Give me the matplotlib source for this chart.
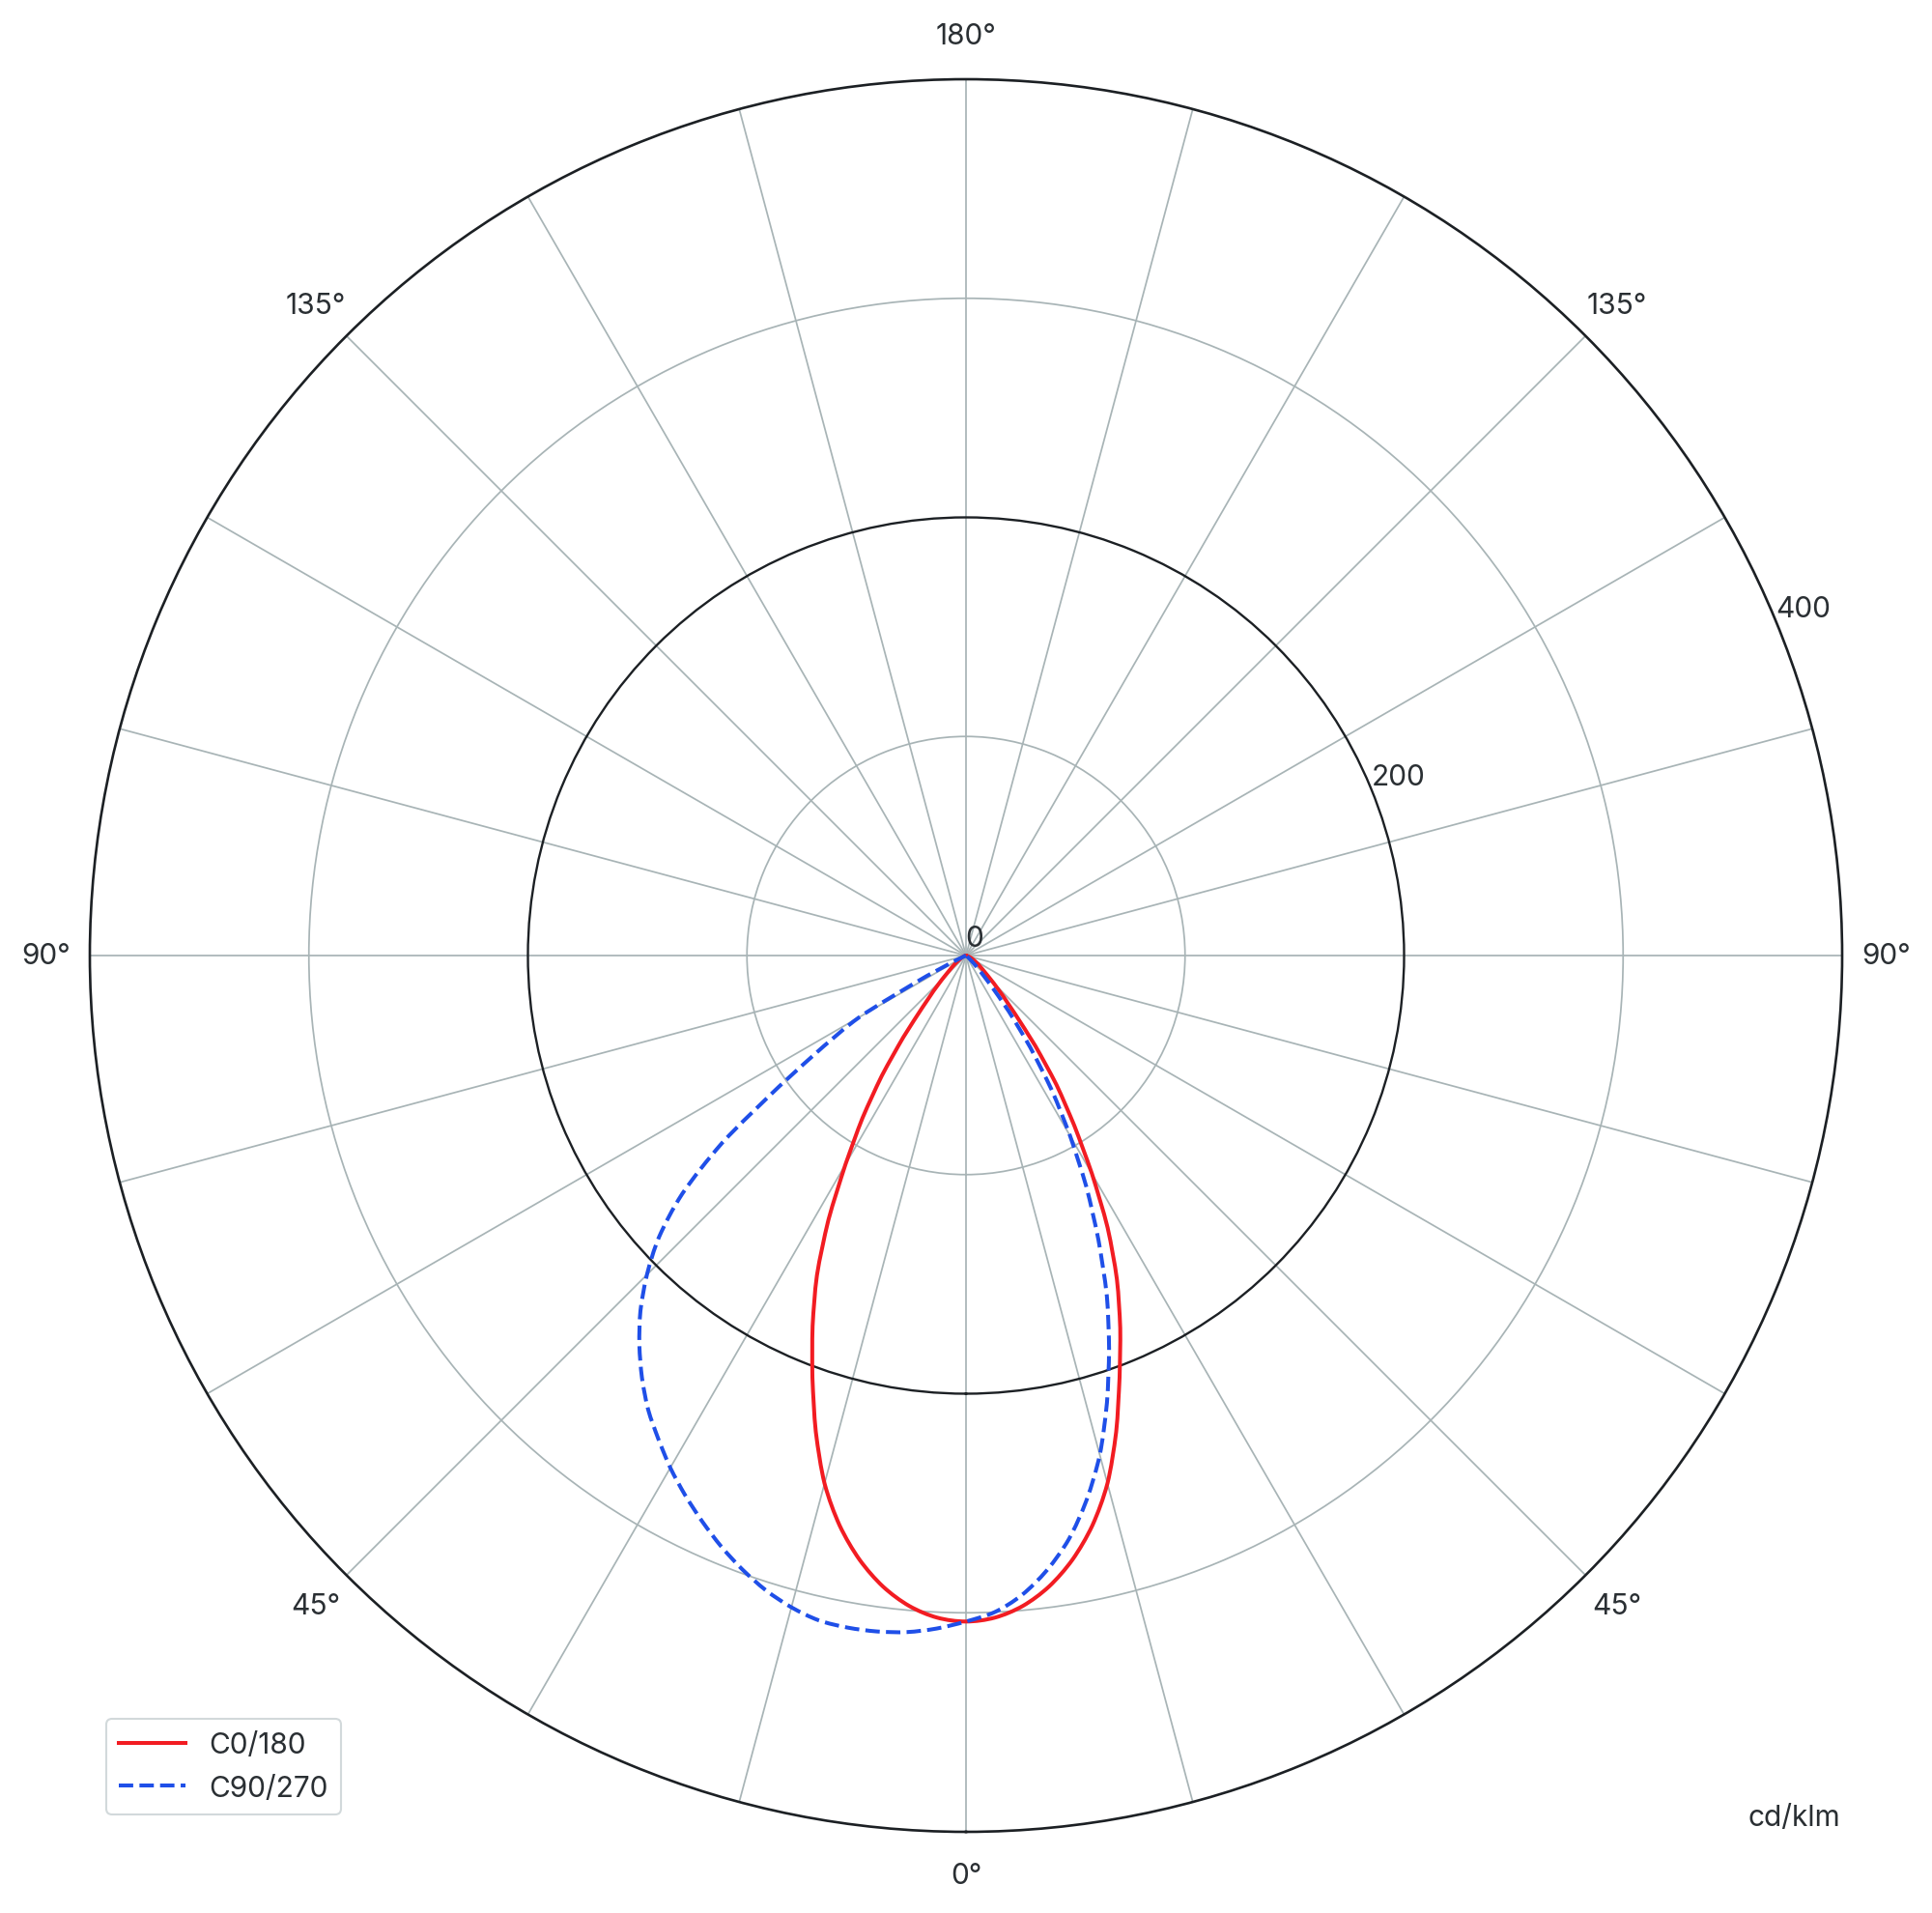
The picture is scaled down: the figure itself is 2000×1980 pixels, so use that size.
import numpy as np
import matplotlib
matplotlib.use("Agg")
import matplotlib.pyplot as plt
from matplotlib.lines import Line2D
from matplotlib.path import Path
from matplotlib.patches import PathPatch

# ---------------- data (cd/klm), gamma angles in degrees ----------------
gamma = [0, 2.5, 5, 7.5, 10, 12.5, 15, 17.5, 20, 22.5, 25, 27.5, 30, 32.5, 35,
         37.5, 40, 42.5, 45, 47.5, 50, 52.5, 55, 57.5, 60, 62.5, 65, 67.5, 70,
         75, 80, 85, 90]
# right half of C0/180 plane
c0 = [304, 302.5, 298, 290.5, 280, 266.5, 249.5, 228, 205, 184, 163, 140, 115,
      92, 72, 52, 35, 25, 18, 13, 10, 8, 6.5, 5, 4, 3, 2.5, 1.8, 1.2, 0.5, 0,
      0, 0]
# left half of C0/180 plane
c180 = [304, 302.5, 298, 290.5, 280, 266.5, 249.5, 228, 205, 183, 161, 136, 110,
        88, 67, 47, 31, 22, 15.5, 11, 8.5, 6.5, 5, 4, 3, 2.5, 2, 1.5, 1, 0, 0,
        0, 0]
# right half of C90/270 plane
c90 = [304, 300, 293, 283, 270.5, 254.5, 236, 214, 191, 168, 143, 119, 95, 73,
       51, 32, 17, 9, 4.5, 2, 1, 0.5, 0, 0, 0, 0, 0, 0, 0, 0, 0, 0, 0]
# left half of C90/270 plane
c270 = [304, 307.5, 310, 311.2, 311.5, 310.8, 308, 303.8, 298.3, 292, 285,
        277.7, 270, 261.5, 253, 243, 232, 220, 206, 190, 169, 140, 104, 77, 56,
        20, 3, 1, 0, 0, 0, 0, 0]

series_labels = ["C0/180", "C90/270"]
angle_ticks = [0, 45, -45, 90, -90, 135, -135, 180]
angle_labels = ["0°", "45°", "45°", "90°", "90°", "135°", "135°", "180°"]
r_ticks = [100, 200, 300]
r_labels = ["0", "200", "400"]
r_label_vals = [0, 200, 400]
unit_label = "cd/klm"

RED = "#f21c22"
BLUE = "#1f4fe8"
GRID = "#a8b4b6"
DARK = "#1c2024"
TXT = "#2a2f33"

plt.rcParams["font.family"] = ["Inter", "DejaVu Sans"]
FS = 21.5

W, H = 2000, 1981
fig = plt.figure(figsize=(W / 100, H / 100), dpi=100)
R = 907
cx, cy = 1000, 990
ax = fig.add_axes([(cx - R) / W, (H - cy - R) / H, 2 * R / W, 2 * R / H],
                  projection="polar")
ax.set_theta_zero_location("S")
ax.set_theta_direction(1)
ax.set_axisbelow(True)

# grid
ax.set_thetagrids(np.arange(0, 360, 15), labels=[""] * 24)
ax.set_rgrids(r_ticks, labels=[""] * len(r_ticks))
ax.tick_params(axis="both", length=0)
for gl in ax.xaxis.get_gridlines():
    gl.set_color(GRID)
    gl.set_linewidth(1.25)
    gl.set_linestyle("-")
for val, gl in zip(r_ticks, ax.yaxis.get_gridlines()):
    gl.set_linestyle("-")
    if val == 200:
        gl.set_color(DARK)
        gl.set_linewidth(1.7)
    else:
        gl.set_color(GRID)
        gl.set_linewidth(1.25)
ax.spines["polar"].set_color(DARK)
ax.spines["polar"].set_linewidth(1.9)


def smooth_polar_path(theta, r):
    """Smooth (Catmull-Rom -> cubic Bezier) path through the measured points."""
    p = np.column_stack([theta, r])
    ext = np.vstack([p[0], p, p[-1]])
    verts = [p[0]]
    codes = [Path.MOVETO]
    for i in range(len(p) - 1):
        p0, p1, p2, p3 = ext[i], ext[i + 1], ext[i + 2], ext[i + 3]
        b1 = p1 + (p2 - p0) / 6.0
        b2 = p2 - (p3 - p1) / 6.0
        b1[1] = max(b1[1], 0.0)
        b2[1] = max(b2[1], 0.0)
        verts += [b1, b2, p2]
        codes += [Path.CURVE4] * 3
    return Path(np.array(verts), codes)


# curves: right half = C0 / C90, left half = C180 / C270
g = np.array(gamma, dtype=float)
th = np.deg2rad(np.concatenate([-g[::-1], g[1:]]))
r_red = np.concatenate([np.array(c180, float)[::-1], np.array(c0, float)[1:]])
r_blue = np.concatenate([np.array(c270, float)[::-1], np.array(c90, float)[1:]])

ax.add_patch(PathPatch(smooth_polar_path(th, r_red), fill=False, edgecolor=RED,
                       lw=2.9, joinstyle="round", capstyle="round", zorder=5,
                       transform=ax.transData))
ax.add_patch(PathPatch(smooth_polar_path(th, r_blue), fill=False,
                       edgecolor=BLUE, lw=2.9, ls="--", zorder=6,
                       transform=ax.transData))
ax.set_ylim(0, 400)

# angle labels
for t, s in zip(angle_ticks, angle_labels):
    ax.text(np.deg2rad(t), 400 * 1.05, s, ha="center", va="center",
            fontsize=FS, color=TXT, clip_on=False)

# radial labels
for v, s in zip(r_label_vals, r_labels):
    if v == 0:
        ax.annotate(s, xy=(0, 0), xytext=(6, 13), textcoords="offset points",
                    ha="center", va="center", fontsize=FS, color=TXT, zorder=7)
    else:
        ax.text(np.deg2rad(112.5), v + 13.5, s, ha="center", va="center",
                fontsize=FS, color=TXT, zorder=7)

fig.text(1857 / W, 1 - 1882 / H, unit_label, ha="center", va="center",
         fontsize=FS, color=TXT)

handles = [Line2D([], [], color=RED, lw=2.9),
           Line2D([], [], color=BLUE, lw=2.9, ls="--")]
leg = ax.legend(handles, series_labels, loc="lower left",
                bbox_to_anchor=(110 / W, (H - 1879) / H),
                bbox_transform=fig.transFigure, borderaxespad=0,
                fontsize=FS, handlelength=2.3, handletextpad=0.8,
                labelspacing=0.55, borderpad=0.45, frameon=True,
                fancybox=True, framealpha=1, edgecolor="#d2d9db")
leg.get_frame().set_linewidth(1.5)
for t in leg.get_texts():
    t.set_color(TXT)

fig.savefig("out.png", dpi=100, facecolor="white")
